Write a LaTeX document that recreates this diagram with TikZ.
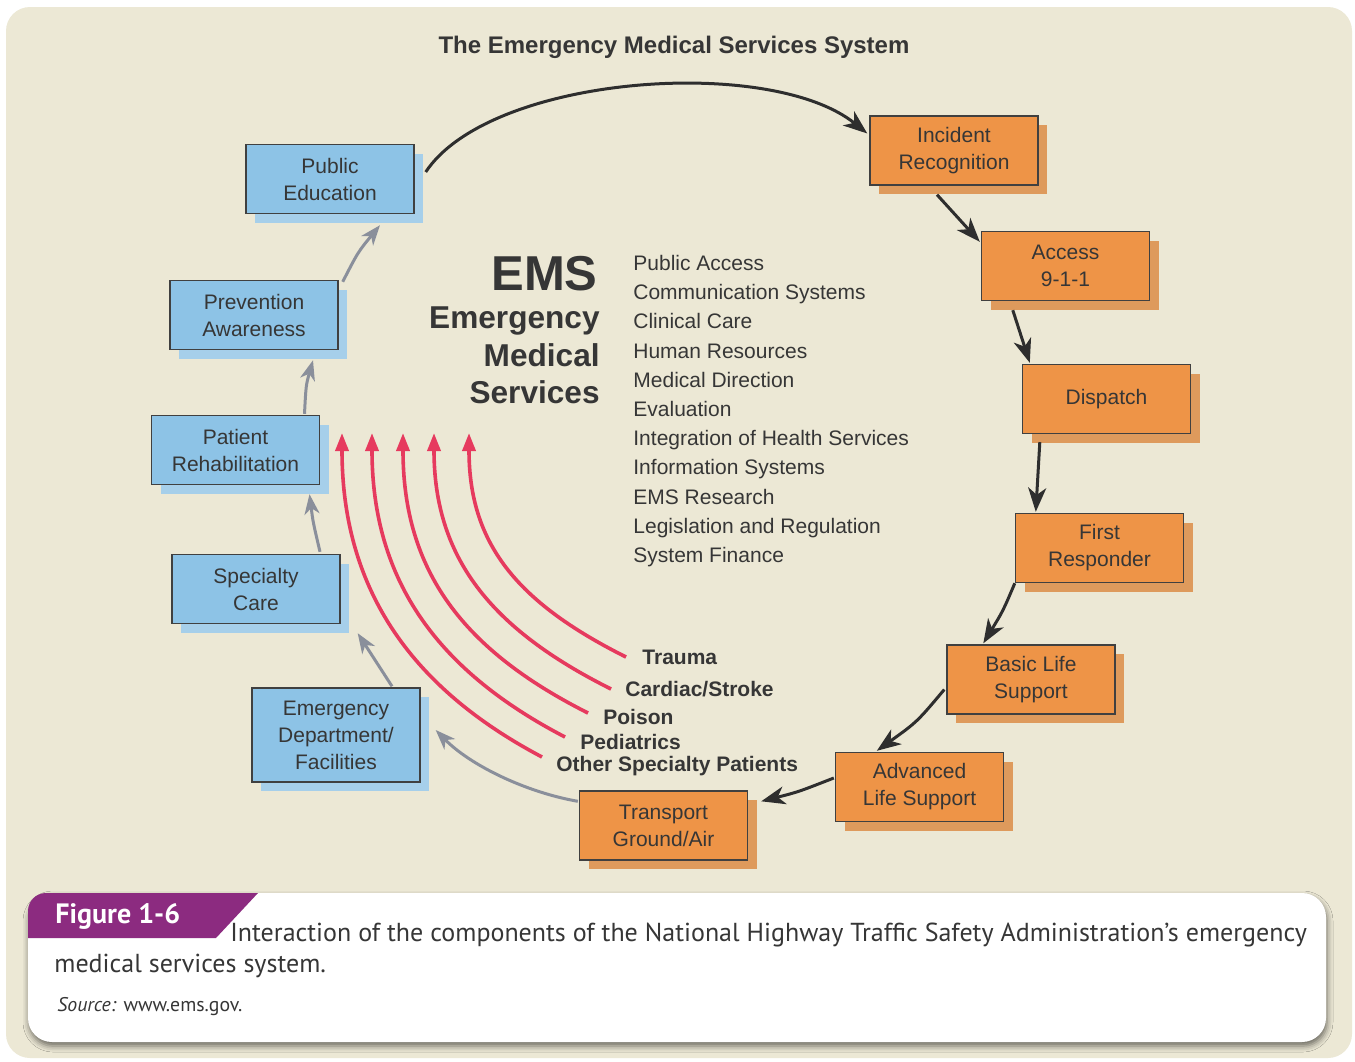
\documentclass[tikz,border=0pt]{standalone}
\usepackage{fontspec}
\setmainfont{Liberation Sans}
\newfontfamily\capfont{PT Sans}
\usetikzlibrary{arrows.meta,shadows,shadows.blur,calc}

\definecolor{bgbeige}{HTML}{ECE8D5}
\definecolor{boxblue}{HTML}{8DC3E6}
\definecolor{blueshadow}{HTML}{A6CFEA}
\definecolor{boxorange}{HTML}{EE9447}
\definecolor{orangeshadow}{HTML}{DE9A5C}
\definecolor{arrowred}{HTML}{E63A5E}
\definecolor{arrowgray}{HTML}{8A8F9B}
\definecolor{arrowdark}{HTML}{2E2E2E}
\definecolor{textdark}{HTML}{363636}
\definecolor{figpurple}{HTML}{8C2B80}
\definecolor{boxedge}{HTML}{404040}

\tikzset{
  boxbase/.style={draw=boxedge, line width=0.7pt, minimum width=84pt, minimum height=34.5pt,
    inner sep=0pt, align=center, text=textdark, font=\fontsize{10.5}{13.5}\selectfont},
  bluebox/.style={boxbase, fill=boxblue,
    general shadow={fill=blueshadow, shadow xshift=4.5pt, shadow yshift=-4.5pt}},
  orangebox/.style={boxbase, fill=boxorange,
    general shadow={fill=orangeshadow, shadow xshift=4.5pt, shadow yshift=-4.5pt}},
  flowdark/.style={draw=arrowdark, line width=1.5pt, -{Stealth[length=12pt,width=9pt,inset=3.5pt]}},
  flowgray/.style={draw=arrowgray, line width=1.5pt, -{Stealth[length=10pt,width=7.5pt,inset=3pt]}},
  redflow/.style={draw=arrowred, line width=1.8pt, -{Triangle[length=9pt,width=6.5pt]}},
  redlabel/.style={anchor=west, inner sep=0pt, text=textdark, font=\bfseries\fontsize{10.5}{12}\selectfont},
  listitem/.style={anchor=base west, inner sep=0pt, text=textdark, font=\fontsize{10.5}{12}\selectfont},
  emsline/.style={anchor=base east, inner sep=0pt, text=textdark, font=\bfseries\fontsize{15.8}{18}\selectfont},
  captext/.style={anchor=base west, inner sep=0pt, text=textdark, font=\capfont\fontsize{13}{15}\selectfont}
}

\begin{document}
\begin{tikzpicture}[x=0.5pt,y=-0.5pt]
\useasboundingbox (0,0) rectangle (1355,1061);
\fill[white] (0,0) rectangle (1355,1061);
\fill[bgbeige, rounded corners=12pt] (6,7) rectangle (1352,1058);

% title
\node[inner sep=0pt, text=textdark, font=\bfseries\fontsize{12}{14}\selectfont] (title) at (674,47) {The Emergency Medical Services System};

% blue boxes
\node[bluebox] (pubed) at (330,179) {Public\\Education};
\node[bluebox] (prev) at (254,315) {Prevention\\Awareness};
\node[bluebox] (rehab) at (235.5,450) {Patient\\Rehabilitation};
\node[bluebox] (spec) at (256,589) {Specialty\\Care};
\node[bluebox, minimum height=47pt] (ed) at (336,735) {Emergency\\Department/\\Facilities};

% orange boxes
\node[orangebox] (inc) at (954,150.5) {Incident\\Recognition};
\node[orangebox] (acc) at (1065.5,266) {Access\\9-1-1};
\node[orangebox] (disp) at (1106.5,399) {Dispatch};
\node[orangebox] (first) at (1099.5,548) {First\\Responder};
\node[orangebox] (bls) at (1031,679.5) {Basic Life\\Support};
\node[orangebox] (als) at (919.5,787) {Advanced\\Life Support};
\node[orangebox] (trans) at (663.5,825.5) {Transport\\Ground/Air};

% dark connectors
\draw[flowdark] ($(pubed.east)+(11,-7)$) .. controls (490,75) and (770,55) .. ($(inc.west)+(-2,-17)$);
\draw[flowdark] ($(inc.south)+(-17,9)$) -- ($(acc.north west)+(-1,11)$);
\draw[flowdark] ($(acc.south west)+(32,9)$) -- ($(disp.north west)+(8,-1)$);
\draw[flowdark] ($(disp.south west)+(18,8)$) -- ($(first.north west)+(21,-1)$);
\draw[flowdark] (first.south west) .. controls (1003,611) .. ($(bls.north west)+(37,-1)$);
\draw[flowdark] ($(bls.west)+(-2,10)$) .. controls (917,722) .. ($(als.north west)+(42,-1)$);
\draw[flowdark] ($(als.west)+(-1,-9)$) .. controls (798,792) .. ($(trans.north east)+(13,11)$);

% gray connectors
\draw[flowgray] ($(trans.north west)+(-1,11)$) .. controls (525,792) and (470,765) .. ($(ed.east)+(15,-5)$);
\draw[flowgray] ($(ed.north)+(56,-1)$) -- ($(spec.south east)+(17,9)$);
\draw[flowgray] ($(spec.north)+(64,-2)$) .. controls (313,522) .. ($(rehab.south)+(74,9)$);
\draw[flowgray] ($(rehab.north)+(69,-1)$) .. controls (306,385) .. ($(prev.south)+(59,10)$);
\draw[flowgray] ($(prev.north east)+(4,2)$) .. controls (358,252) .. ($(pubed.south)+(50,11)$);

% EMS block
\node[anchor=base east, inner sep=0pt, text=textdark, font=\bfseries\fontsize{24.5}{28}\selectfont] (ems) at (598,290) {EMS};
\node[emsline] (emerg) at (600,328) {Emergency};
\node[emsline] (medical) at (600,366) {Medical};
\node[emsline] (services) at (600,403) {Services};

% list
\foreach \t [count=\i from 0] in {Public Access,Communication Systems,Clinical Care,Human Resources,Medical Direction,Evaluation,Integration of Health Services,Information Systems,EMS Research,Legislation and Regulation,System Finance}
  \node[listitem] (item\i) at (633,{270.5+29.2*\i}) {\t};

% red labels
\node[redlabel] (trauma) at (642,657) {Trauma};
\node[redlabel] (cardiac) at (625,689) {Cardiac/Stroke};
\node[redlabel] (poison) at (603,717) {Poison};
\node[redlabel] (pedi) at (580,742) {Pediatrics};
\node[redlabel] (other) at (556,766) {Other Specialty Patients};

\coordinate (t1) at (469,433);
\coordinate (t2) at (434,433);
\coordinate (t3) at (403,433);
\coordinate (t4) at (372,433);
\coordinate (t5) at (342,433);

\draw[redflow] ($(trauma.west)+(-16,0)$) .. controls +(-110,-55) and +(0,110) .. (t1);
\draw[redflow] ($(cardiac.west)+(-14,0)$) .. controls +(-120,-60) and +(0,125) .. (t2);
\draw[redflow] ($(poison.west)+(-15,-4)$) .. controls +(-125,-63) and +(0,138) .. (t3);
\draw[redflow] ($(pedi.west)+(-15,-5)$) .. controls +(-125,-65) and +(0,150) .. (t4);
\draw[redflow] ($(other.west)+(-14,-9)$) .. controls +(-127,-67) and +(0,160) .. (t5);

% caption
\fill[white, rounded corners=12pt, blur shadow={shadow xshift=0.5pt, shadow yshift=-2pt, shadow blur radius=3pt, shadow opacity=55}] (28,893) rectangle (1326,1042);
\fill[figpurple] (28,938) [rounded corners=9pt] -- (28,893) -- (150,893) [sharp corners] -- (258,893) -- (216,938) -- cycle;
\node[anchor=base west, inner sep=0pt, text=white, font=\capfont\bfseries\fontsize{14}{16}\selectfont] (fig) at (55,923) {Figure 1-6};
\node[captext] (cap1) at (230,941) {Interaction of the components of the National Highway Traffic Safety Administration’s emergency};
\node[captext] (cap2) at (54,972) {medical services system.};
\node[anchor=base west, inner sep=0pt, text=textdark, font=\capfont\fontsize{9.9}{11}\selectfont] (src) at (57,1011) {\textit{Source:} www.ems.gov.};
\end{tikzpicture}
\end{document}
